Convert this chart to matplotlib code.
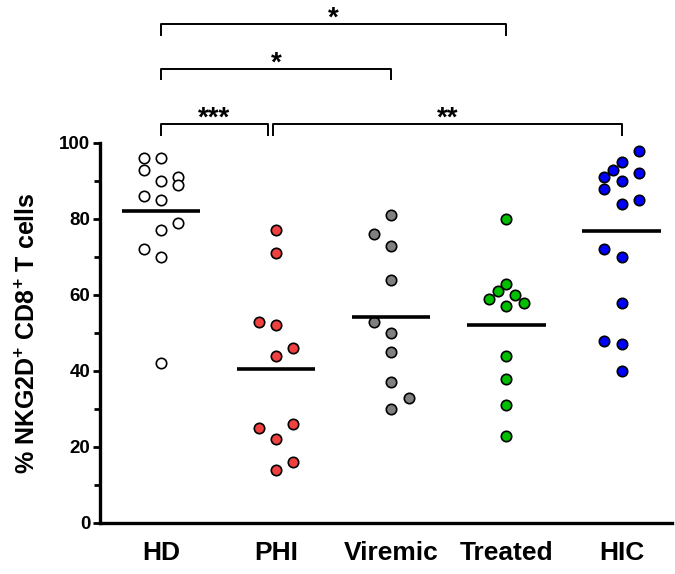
import numpy as np
import matplotlib
matplotlib.use("Agg")
import matplotlib.pyplot as plt

plt.rcParams['font.family'] = ['Liberation Sans', 'DejaVu Sans']
plt.rcParams['mathtext.fontset'] = 'custom'
plt.rcParams['mathtext.rm'] = 'Liberation Sans:bold'
plt.rcParams['mathtext.bf'] = 'Liberation Sans:bold'

groups = ["HD", "PHI", "Viremic", "Treated", "HIC"]

hd = [96, 96, 93, 90, 91, 89, 86, 85, 79, 77, 72, 70, 42]
phi = [77, 71, 53, 52, 46, 44, 25, 26, 22, 16, 14]
viremic = [81, 76, 73, 64, 53, 50, 45, 37, 33, 30]
treated = [80, 63, 61, 60, 59, 58, 57, 44, 38, 31, 23]
hic = [98, 95, 93, 91, 92, 90, 88, 85, 84, 72, 70, 58, 48, 47, 40]

# significance brackets: (group a, group b, label)
comparisons = [("HD", "PHI", "***"), ("PHI", "HIC", "**"),
               ("HD", "Viremic", "*"), ("HD", "Treated", "*")]

# horizontal spread of overlapping points (half-slot units)
spread = {
    "HD": [-2, 0, -2, 0, 2, 2, -2, 0, 2, 0, -2, 0, 0],
    "PHI": [0, 0, -2, 0, 2, 0, -2, 2, 0, 2, 0],
    "Viremic": [0, -2, 0, 0, -2, 0, 0, 0, 2, 0],
    "Treated": [0, 0, -1, 1, -2, 2, 0, 0, 0, 0, 0],
    "HIC": [2, 0, -1, -2, 2, 0, -2, 2, 0, -2, 0, 0, -2, 0, 0],
}
colors = {"HD": "white", "PHI": "#F04040", "Viremic": "#808080",
          "Treated": "#00C000", "HIC": "#0000FF"}

values = dict(zip(groups, [hd, phi, viremic, treated, hic]))

fig = plt.figure(figsize=(6.75, 5.74), dpi=100)
ax = fig.add_axes([0.148, 0.089, 0.848, 0.662])

step = 0.075
for i, g in enumerate(groups):
    xs = i + np.array(spread[g]) * step
    ax.scatter(xs, values[g], s=56, facecolor=colors[g], edgecolor='black',
               linewidth=1.2, zorder=3, clip_on=False)
    m = np.mean(values[g])
    ax.plot([i - 0.34, i + 0.34], [m, m], color='black', lw=2.6,
            solid_capstyle='butt', zorder=4)

ax.set_xlim(-0.53, 4.44)
ax.set_ylim(0, 100)
ax.set_xticks(range(len(groups)))
ax.set_xticklabels(groups, fontsize=19, fontweight='bold')
ax.tick_params(axis='x', length=0, pad=13)
ax.set_yticks(range(0, 101, 20))
ax.set_yticks(range(10, 100, 20), minor=True)
ax.tick_params(axis='y', which='major', length=5, width=2, labelsize=13.5, pad=2)
ax.tick_params(axis='y', which='minor', length=4, width=2)
for lab in ax.get_yticklabels():
    lab.set_fontweight('bold')
ax.spines['top'].set_visible(False)
ax.spines['right'].set_visible(False)
ax.spines['left'].set_linewidth(2.4)
ax.spines['bottom'].set_linewidth(2.4)
ax.set_ylabel(r"% NKG2D$^{+}$ CD8$^{+}$ T cells", fontsize=18,
              fontweight='bold', labelpad=14)

# brackets drawn above the plot area
levels = [105, 105, 119.5, 131.3]
drop = 2.8
for (a, b, lab), yb in zip(comparisons, levels):
    x1 = groups.index(a)
    x2 = groups.index(b)
    if (a, b) == ("HD", "PHI"):
        x2 = x2 - 0.07
    if a == "PHI":
        x1 = x1 - 0.025
    ax.plot([x1, x1, x2, x2], [yb - drop, yb, yb, yb - drop], color='black',
            lw=1.4, clip_on=False)
    ax.text((x1 + x2) / 2, yb + 2.2, lab, ha='center', va='center_baseline',
            fontsize=20, fontweight='bold')

fig.savefig("out.png", dpi=100)
